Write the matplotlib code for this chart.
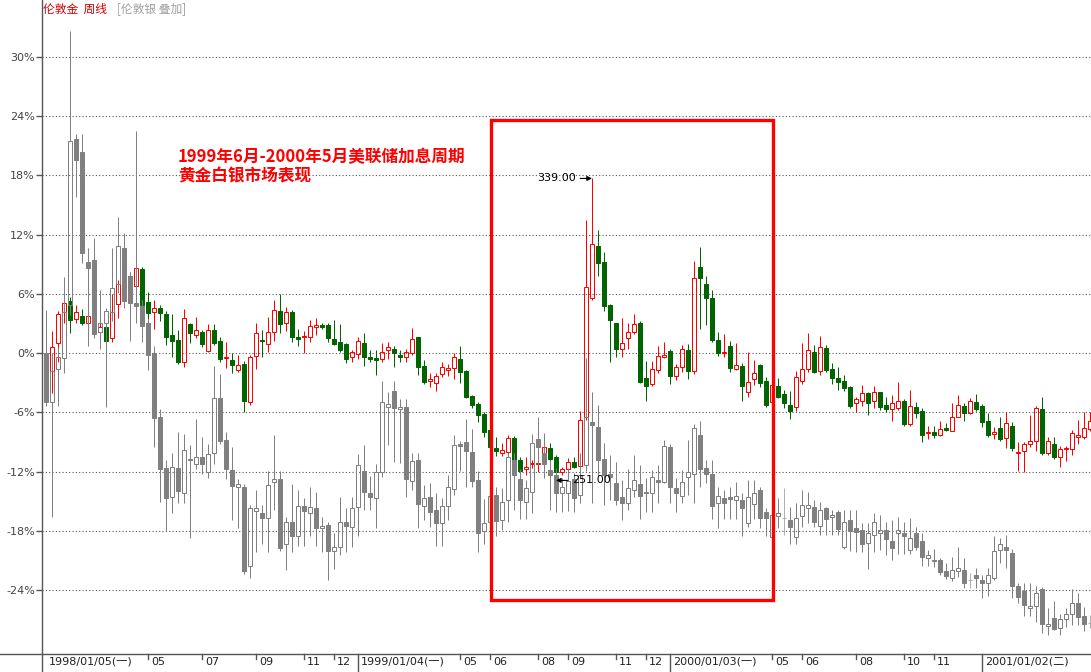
'''
gold_silver_weekly.py

London gold weekly candles with London silver overlaid (% change scale),
1998/01 - 2001/05, Fed hiking cycle 1999/06 - 2000/05 boxed.
'''

import matplotlib.pyplot as plt
import matplotlib.transforms as mtransforms
from matplotlib.lines import Line2D
from matplotlib.patches import Rectangle

plt.rcParams['font.family'] = ['DejaVu Sans', 'Noto Sans CJK SC']

# ---------------------------------------------------------------------------- #
# Data: % change vs. the first week, one value per week (week 0 = 1998/01/05).

gold_open = [
    -0.2, -1.8, 1.0, 4.2, 5.3, 3.5, 3.8, 3.1, 3.5, 2.1,
    2.6, 1.5, 5.0, 7.2, 7.8, 6.8, 8.5, 5.2, 4.2, 4.6,
    4.0, 1.8, 1.3, -0.9, 2.9, 1.8, 2.1, 0.2, 2.3, 1.2,
    -0.5, -0.7, -1.7, -1.1, -5.0, -0.3, 1.3, 0.9, 2.1, 4.3,
    3.1, 4.2, 1.6, 1.6, 1.6, 2.6, 2.8, 2.8, 1.4, 1.1,
    0.9, -0.4, -0.1, 1.0, -0.4, -0.5, -0.6, 0.3, 0.4, -0.2,
    -0.4, 0.0, 1.6, -1.3, -2.8, -3.0, -2.1, -1.7, -1.5, -0.6,
    -1.8, -4.3, -5.2, -6.2, -7.8, -9.6, -10.1, -10.0, -8.6, -10.8,
    -11.7, -11.2, -11.2, -10.1, -9.6, -10.5, -12.0, -11.7, -11.0, -11.4,
    -6.5, 5.6, 10.9, 9.2, 4.9, 3.1, 0.4, 1.5, 2.1, 3.1,
    -2.5, -3.1, -1.7, -0.4, 0.2, -2.3, -1.4, 0.3, -1.8, 8.7,
    7.0, 5.6, 1.3, 0.0, 0.7, -1.6, -1.3, -3.9, -2.6, -1.2,
    -2.8, -5.0, -3.3, -4.1, -5.3, -5.5, -2.8, -1.6, 0.1, -1.8,
    0.5, -1.6, -2.5, -2.8, -3.4, -5.1, -4.9, -4.0, -4.9, -3.9,
    -5.3, -5.7, -5.6, -4.9, -7.2, -5.5, -5.9, -8.1, -8.0, -8.3,
    -7.6, -7.9, -6.5, -5.4, -6.1, -5.0, -5.4, -6.9, -8.2, -7.6,
    -8.6, -7.4, -10.1, -9.9, -9.2, -8.9, -5.7, -10.1, -9.2, -10.5,
    -9.7, -9.7, -8.5, -8.5, -7.7]
gold_high = [
    0.3, 2.2, 4.3, 5.4, 5.7, 4.9, 4.5, 4.9, 4.0, 3.1,
    3.1, 6.0, 7.4, 7.6, 8.2, 9.2, 8.7, 6.2, 5.4, 4.9,
    4.3, 4.0, 2.3, 4.5, 3.0, 3.7, 2.3, 2.9, 2.9, 1.6,
    1.1, 0.0, -0.2, -0.8, -0.2, 3.0, 2.3, 3.7, 5.4, 6.0,
    4.7, 4.4, 2.4, 2.2, 3.4, 3.6, 3.1, 3.0, 3.4, 2.9,
    1.0, 0.3, 1.6, 2.0, 0.3, 0.3, 1.0, 1.1, 0.7, 0.3,
    0.4, 2.5, 1.6, -0.7, -2.0, -2.0, -0.9, -1.1, 0.0, 0.7,
    -1.7, -4.2, -5.0, -6.0, -7.5, -8.5, -9.1, -8.3, -8.4, -10.5,
    -10.5, -10.8, -10.5, -9.1, -9.1, -10.3, -11.5, -10.6, -10.5, -5.9,
    13.5, 17.7, 12.5, 10.2, 5.0, 3.1, 3.6, 3.1, 4.0, 3.3,
    -0.8, -0.8, 0.7, 1.1, 0.4, -1.1, 0.8, 0.9, 9.3, 10.8,
    7.8, 6.4, 2.1, 1.9, 1.2, 1.0, -1.0, 0.1, -0.7, -1.1,
    -2.4, -2.7, -2.5, -3.7, -3.8, -1.8, 1.0, 2.0, 0.8, 1.7,
    0.8, -1.0, -1.4, -2.2, -3.3, -4.4, -3.2, -3.9, -3.3, -3.9,
    -4.4, -4.2, -2.9, -4.7, -3.7, -5.0, -5.6, -7.4, -7.4, -6.9,
    -7.1, -5.1, -4.2, -5.1, -4.5, -4.1, -5.2, -6.1, -7.5, -6.5,
    -6.0, -7.0, -9.0, -9.0, -6.3, -5.4, -4.4, -8.5, -8.5, -9.4,
    -9.4, -7.8, -6.8, -6.0, -6.0]
gold_low = [
    -4.3, -4.0, -0.9, 3.0, 2.0, 3.1, 2.8, 2.7, 2.3, 1.9,
    0.8, 1.1, 3.6, 5.8, 7.2, 6.4, 4.6, 3.5, 2.4, 3.3,
    0.8, -0.4, -1.1, -1.4, 1.0, 1.5, 0.6, 0.1, 0.8, -0.9,
    -1.5, -2.0, -1.9, -6.0, -5.3, -1.6, -0.4, 0.1, 1.2, 2.0,
    2.2, 1.1, 0.7, 0.0, 1.1, 1.8, 2.4, 1.1, 0.8, 0.1,
    -1.0, -0.9, -0.6, -1.3, -0.9, -2.2, -0.9, -0.6, -1.4, -0.9,
    -0.9, -0.2, -2.2, -3.1, -3.4, -3.8, -2.4, -2.3, -2.6, -3.0,
    -4.5, -5.6, -7.0, -8.5, -9.8, -10.4, -10.4, -10.3, -11.0, -12.2,
    -12.4, -11.6, -12.0, -10.8, -11.1, -12.9, -12.4, -12.0, -11.6, -11.6,
    -6.8, 5.4, 7.8, 4.3, -0.9, -0.4, -0.4, 0.4, 1.9, -3.0,
    -4.9, -3.3, -2.0, -0.5, -3.1, -2.7, -1.9, -2.6, -2.1, 2.4,
    2.8, 1.1, -0.3, -0.4, -1.9, -1.7, -4.9, -4.4, -3.2, -3.4,
    -5.5, -5.2, -4.5, -5.6, -6.7, -5.9, -3.1, -1.9, -2.0, -2.2,
    -1.9, -3.1, -3.7, -3.8, -5.6, -6.0, -5.4, -6.3, -5.6, -5.8,
    -6.0, -6.9, -5.8, -7.4, -7.4, -6.6, -9.0, -8.7, -8.6, -8.4,
    -7.9, -7.9, -6.5, -6.9, -6.2, -5.9, -7.5, -8.5, -8.7, -8.9,
    -9.6, -9.9, -11.9, -12.0, -9.5, -9.9, -10.3, -10.3, -10.7, -11.5,
    -10.9, -10.3, -9.2, -8.7, -7.9]
gold_close = [
    -3.2, 0.6, 4.0, 5.1, 3.4, 4.2, 3.1, 3.8, 2.7, 2.6,
    1.2, 4.2, 7.0, 6.4, 7.6, 8.6, 4.9, 4.1, 4.6, 4.1,
    1.6, 1.2, -0.9, 3.6, 2.0, 2.3, 0.9, 2.3, 1.0, -0.6,
    -0.4, -1.2, -1.2, -4.9, -0.4, 2.0, 1.2, 2.1, 4.4, 2.9,
    4.2, 1.6, 1.4, 1.7, 2.7, 2.8, 2.6, 1.5, 0.9, 0.3,
    -0.6, 0.1, 1.2, -0.4, -0.6, -0.7, 0.1, 0.6, 0.0, -0.4,
    0.1, 1.4, -1.4, -2.9, -2.6, -2.3, -1.4, -1.5, -0.4, -1.9,
    -4.4, -5.3, -6.3, -8.0, -9.5, -9.9, -9.8, -8.6, -10.8, -11.9,
    -11.5, -11.1, -11.1, -9.5, -10.7, -12.0, -11.7, -11.0, -11.5, -6.8,
    6.7, 11.1, 9.1, 4.8, 3.4, 0.4, 1.0, 2.1, 2.9, -2.9,
    -3.3, -1.6, -0.3, -0.2, -2.3, -1.4, 0.4, -1.8, 7.6, 7.6,
    5.6, 1.3, 0.0, 0.1, -1.5, -1.2, -3.3, -2.9, -2.0, -3.0,
    -5.3, -3.2, -4.4, -5.1, -5.9, -2.4, -1.6, 0.3, -1.9, 0.6,
    -1.7, -2.5, -2.9, -3.5, -5.4, -4.7, -4.0, -5.1, -3.9, -5.5,
    -5.7, -5.1, -4.9, -7.2, -5.4, -6.1, -8.3, -8.0, -8.3, -7.7,
    -7.8, -6.5, -5.3, -6.1, -4.9, -5.7, -7.0, -8.3, -8.0, -8.7,
    -7.1, -9.6, -10.0, -9.2, -8.9, -5.6, -10.1, -8.9, -10.5, -9.7,
    -9.6, -8.1, -8.3, -7.6, -6.9]

silver_open = [
    0.0, -5.0, -1.6, -0.5, 4.9, 21.7, 20.4, 9.2, 9.4, 2.1,
    3.1, 4.2, 7.0, 10.7, 7.8, 5.1, 4.8, 3.0, 0.0, -6.5,
    -11.6, -14.6, -11.6, -14.2, -10.7, -11.2, -10.5, -12.0, -10.1, -4.5,
    -8.8, -11.8, -13.6, -13.6, -21.6, -16.0, -16.2, -16.7, -13.1, -12.8,
    -19.3, -17.1, -18.5, -15.5, -16.2, -15.7, -17.7, -17.4, -20.1, -19.6,
    -17.1, -17.6, -15.6, -11.9, -14.2, -14.7, -12.0, -5.5, -3.8, -5.7,
    -5.5, -13.0, -10.8, -15.5, -14.6, -15.9, -17.2, -15.5, -13.8, -9.2,
    -9.0, -10.0, -12.9, -18.0, -17.1, -14.4, -16.9, -14.9, -10.8, -12.8,
    -15.1, -14.1, -8.7, -10.1, -11.8, -12.4, -14.2, -14.2, -12.8, -14.4,
    -11.3, -7.0, -7.5, -10.7, -12.3, -13.2, -14.6, -15.2, -13.9, -13.3,
    -14.1, -14.2, -12.9, -13.1, -9.5, -13.7, -14.5, -12.6, -12.3, -8.3,
    -11.6, -12.3, -15.2, -14.7, -14.6, -14.9, -14.9, -17.2, -15.3, -13.9,
    -16.1, -18.6, -16.5, -16.7, -16.9, -18.6, -16.5, -15.7, -15.6, -17.5,
    -15.7, -16.6, -16.1, -19.6, -16.9, -17.7, -17.9, -19.2, -18.4, -18.2,
    -17.9, -19.0, -18.2, -18.2, -20.0, -18.2, -19.0, -20.8, -21.0, -21.0,
    -22.1, -22.8, -22.1, -22.0, -23.0, -22.5, -23.0, -23.3, -22.8, -20.0,
    -19.6, -20.3, -23.6, -24.1, -25.8, -25.6, -23.9, -27.7, -26.8, -27.9,
    -26.9, -26.4, -25.3, -26.6, -27.3]
silver_high = [
    4.4, 0.0, 0.6, 7.7, 32.6, 22.2, 22.2, 10.7, 11.7, 6.4,
    4.6, 10.7, 13.8, 12.2, 8.2, 22.5, 5.4, 3.5, 0.7, -5.7,
    -10.8, -10.1, -8.0, -8.2, -9.3, -6.7, -8.5, -9.2, -1.3, -2.1,
    -8.0, -9.5, -12.8, -13.3, -15.4, -13.9, -15.4, -11.9, -8.3, -11.9,
    -16.6, -13.3, -13.9, -14.7, -13.6, -14.1, -16.6, -17.1, -18.2, -14.6,
    -15.7, -14.6, -10.2, -9.3, -12.5, -11.2, -2.8, -3.9, -2.8, -4.7,
    -4.7, -10.1, -10.1, -13.4, -13.2, -14.2, -14.7, -12.4, -8.3, -8.9,
    -6.7, -7.7, -11.9, -14.8, -13.9, -13.6, -13.7, -10.1, -10.1, -11.7,
    -12.9, -8.2, -6.5, -8.1, -10.8, -11.6, -12.7, -11.6, -12.1, -10.1,
    -0.5, -3.9, -5.3, -9.1, -10.3, -11.0, -12.9, -11.7, -10.3, -11.3,
    -12.7, -11.8, -11.3, -8.8, -9.2, -12.7, -11.8, -8.8, -7.2, -6.9,
    -10.8, -10.8, -13.6, -13.9, -13.6, -13.1, -14.2, -12.9, -12.9, -13.6,
    -15.7, -15.9, -14.7, -13.7, -15.6, -15.2, -13.9, -14.1, -14.9, -15.1,
    -15.6, -15.9, -15.9, -15.9, -15.9, -15.9, -17.2, -17.2, -16.2, -16.4,
    -17.1, -16.9, -16.6, -17.1, -16.7, -17.6, -18.2, -20.0, -19.8, -20.8,
    -21.3, -20.7, -19.6, -20.8, -22.3, -21.8, -22.5, -21.8, -18.5, -18.7,
    -18.4, -19.8, -23.3, -23.3, -23.3, -23.6, -23.7, -25.8, -25.1, -26.4,
    -25.8, -23.9, -24.3, -25.7, -26.5]
silver_low = [
    -5.4, -16.6, -5.4, -2.0, 3.9, 15.8, 9.1, 0.7, 1.5, 0.4,
    -5.5, 3.3, 6.1, 4.6, 1.2, 3.1, 1.1, -1.7, -9.5, -15.1,
    -18.0, -16.2, -15.2, -15.2, -18.7, -11.7, -12.3, -12.7, -11.2, -9.2,
    -12.8, -16.9, -17.7, -22.4, -22.8, -20.2, -19.3, -20.2, -15.9, -20.1,
    -22.0, -20.2, -19.5, -19.5, -18.5, -19.5, -20.2, -23.0, -21.9, -20.5,
    -20.2, -19.6, -18.5, -15.9, -15.9, -17.7, -12.6, -9.3, -11.0, -11.1,
    -14.6, -13.9, -17.7, -16.9, -17.6, -19.5, -19.5, -16.9, -14.4, -11.9,
    -13.6, -13.6, -20.2, -19.3, -17.7, -18.5, -17.9, -17.1, -15.9, -16.8,
    -16.8, -16.2, -11.3, -12.7, -15.9, -16.1, -16.1, -16.0, -16.1, -15.2,
    -11.9, -15.2, -12.6, -15.4, -14.9, -15.4, -16.9, -15.9, -14.6, -16.8,
    -16.1, -16.1, -15.2, -13.2, -15.2, -16.1, -15.2, -14.4, -15.2, -13.6,
    -13.2, -16.8, -17.7, -16.8, -16.8, -16.8, -18.5, -17.6, -16.8, -17.7,
    -18.5, -19.2, -17.7, -18.4, -19.3, -19.3, -17.6, -17.2, -17.6, -18.4,
    -18.4, -18.4, -18.4, -19.8, -20.1, -20.2, -20.2, -21.9, -20.2, -20.0,
    -20.5, -21.0, -20.4, -20.4, -20.4, -20.0, -21.6, -21.6, -21.7, -22.5,
    -22.9, -23.1, -22.7, -23.8, -23.8, -23.8, -24.8, -24.6, -23.0, -21.3,
    -21.8, -24.8, -25.3, -26.6, -26.6, -27.2, -28.4, -28.6, -28.1, -28.6,
    -27.8, -27.6, -27.6, -28.2, -27.9]
silver_close = [
    -5.0, -1.8, -0.4, 4.2, 21.5, 19.6, 10.1, 8.6, 1.9, 3.0,
    4.3, 6.6, 10.9, 5.3, 5.1, 4.8, 2.7, -0.2, -6.6, -11.7,
    -14.7, -11.5, -14.0, -9.8, -10.8, -10.5, -11.2, -10.2, -4.5, -8.9,
    -11.7, -13.5, -13.3, -22.1, -15.7, -15.7, -16.7, -13.4, -12.8, -19.7,
    -17.1, -18.5, -15.5, -16.0, -15.6, -17.7, -17.5, -20.1, -19.6, -17.1,
    -17.5, -15.7, -11.3, -14.1, -14.6, -12.0, -5.0, -5.2, -5.6, -5.5,
    -12.8, -10.9, -15.3, -14.7, -16.1, -17.2, -15.5, -13.6, -9.3, -9.4,
    -9.9, -13.0, -18.2, -17.2, -14.5, -17.0, -15.1, -10.5, -12.4, -14.9,
    -13.7, -9.1, -9.5, -11.2, -12.4, -14.2, -13.6, -13.0, -14.7, -12.4,
    -6.5, -7.3, -10.8, -12.4, -12.6, -14.9, -15.2, -13.7, -12.9, -14.5,
    -14.2, -12.6, -13.1, -9.4, -13.6, -14.2, -13.1, -12.0, -7.6, -11.7,
    -12.3, -15.5, -14.5, -15.2, -14.8, -14.5, -15.7, -14.6, -14.2, -16.7,
    -16.7, -16.4, -16.2, -16.7, -17.6, -16.7, -15.4, -15.4, -17.1, -15.9,
    -16.8, -16.4, -17.8, -17.1, -18.0, -18.1, -19.3, -18.2, -17.1, -17.9,
    -18.8, -19.7, -17.9, -18.5, -18.7, -19.6, -20.7, -20.5, -21.1, -22.2,
    -22.6, -22.0, -21.8, -23.3, -23.0, -22.8, -23.3, -22.5, -20.1, -19.3,
    -20.0, -23.6, -24.7, -25.5, -25.6, -24.3, -27.5, -27.4, -28.0, -26.9,
    -26.4, -25.3, -26.7, -27.5, -27.3]

gold_base_price = 288.1     # gold price at 0%

# date axis: week index -> label
tick_weeks = [0, 17, 26, 35, 43, 48, 52, 69, 74, 82, 87, 95, 100, 104,
              121, 126, 135, 143, 148, 156]
tick_labels = ['1998/01/05(一)', '05', '07', '09', '11', '12',
               '1999/01/04(一)', '05', '06', '08', '09', '11', '12',
               '2000/01/03(一)', '05', '06', '08', '10', '11',
               '2001/01/02(二)']

y_ticks = [30, 24, 18, 12, 6, 0, -6, -12, -18, -24]

# Fed hiking cycle box: week range and % range
box_weeks = (74.2, 121.2)
box_pct = (-25.0, 23.6)

# ---------------------------------------------------------------------------- #

W, H = 1091, 672
px = 0.72   # one pixel in points

gold_up = '#ff0000'
gold_down = '#006400'
silver_col = '#808080'
silver_flat = '#b0b0b0'

fig = plt.figure(figsize=(W / 100, H / 100), dpi=100)
ax = fig.add_axes([42 / W, 18 / H, 1 - 42 / W, 1 - 18 / H])


def candles(o, h, l, c, up_col, down_col, flat_col, z):
    bw = 0.75
    for i in range(len(o)):
        top, bot = max(o[i], c[i]), min(o[i], c[i])
        if c[i] > o[i]:
            col, face = up_col, 'none'
        elif c[i] < o[i]:
            col, face = down_col, down_col
        else:
            col, face = flat_col, flat_col
        ax.vlines([i, i], [top, l[i]], [h[i], bot], color=col, lw=px, zorder=z)
        ax.add_patch(Rectangle((i - bw / 2, bot), bw, top - bot,
                               facecolor=face, edgecolor=col, lw=px, zorder=z))


candles(gold_open, gold_high, gold_low, gold_close,
        gold_up, gold_down, gold_up, 2)
candles(silver_open, silver_high, silver_low, silver_close,
        silver_col, silver_col, silver_flat, 3)

ax.set_xlim(-0.667, 174.17)
ax.set_ylim(-30.49, 35.78)

# Axes styling.
for s in ['top', 'right', 'bottom']:
    ax.spines[s].set_visible(False)
ax.spines['left'].set_color('#555555')
ax.spines['left'].set_linewidth(1.0)
ax.set_xticks([])
ax.set_yticks(y_ticks)
ax.set_yticklabels(['%d%%' % t for t in y_ticks])
ax.tick_params(axis='y', length=4, width=1, color='#555555', labelsize=8,
               labelcolor='#444444', pad=1)
ax.grid(axis='y', linestyle=(0, (1, 2)), color='#555555', lw=0.8)
ax.set_axisbelow(True)

# Bottom date axis.
fig.add_artist(Line2D([0, 1], [18 / H, 18 / H], color='#555555', lw=1.0))
fig.add_artist(Line2D([42 / W, 42 / W], [0, 18 / H], color='#555555', lw=1.0))
trans = mtransforms.blended_transform_factory(ax.transData, ax.transAxes)
for wk, lab in zip(tick_weeks, tick_labels):
    full = '/' in lab
    if wk > 0:
        ln = 18 / 654 if full else 5 / 654
        ax.plot([wk, wk], [0, -ln], color='#555555', lw=1.0,
                transform=trans, clip_on=False)
    ax.annotate(lab, xy=(wk, 0), xycoords=trans, xytext=(3, -8),
                textcoords='offset pixels', ha='left', va='center',
                fontsize=8, color='#222222', annotation_clip=False)

# Header.
fig.text(43 / W, 1 - 9 / H, '伦敦金  周线', color='#cc0000', fontsize=8.5,
         va='center', family=['Noto Sans CJK SC', 'DejaVu Sans'])
fig.text(117 / W, 1 - 9 / H, '[伦敦银 叠加]', color='#a0a0a0', fontsize=8.5,
         va='center', family=['Noto Sans CJK SC', 'DejaVu Sans'])

# Red comment.
fig.text(178 / W, 1 - 157 / H, '1999年6月-2000年5月美联储加息周期',
         color='#ff0000', fontsize=12, fontweight='bold', va='center',
         family=['Noto Sans CJK SC', 'DejaVu Sans'])
fig.text(178 / W, 1 - 176 / H, '黄金白银市场表现',
         color='#ff0000', fontsize=12, fontweight='bold', va='center',
         family=['Noto Sans CJK SC', 'DejaVu Sans'])

ax.add_patch(Rectangle((box_weeks[0], box_pct[0]),
                       box_weeks[1] - box_weeks[0], box_pct[1] - box_pct[0],
                       fill=False, edgecolor='#ff0000', lw=2.4, zorder=5))

# Max / min markers on gold.
i_max = max(range(len(gold_high)), key=lambda i: gold_high[i])
i_min = min(range(len(gold_low)), key=lambda i: gold_low[i])
v_max = round(gold_base_price * (1 + gold_high[i_max] / 100))
v_min = round(gold_base_price * (1 + gold_low[i_min] / 100))
arrow = dict(arrowstyle='-|>', color='black', lw=0.8, mutation_scale=7,
             shrinkA=1, shrinkB=0)
ax.annotate('%.2f' % v_max, xy=(i_max, gold_high[i_max]),
            xytext=(-16, 0), textcoords='offset pixels', ha='right',
            va='center', fontsize=8, arrowprops=arrow, zorder=6)
ax.annotate('%.2f' % v_min, xy=(i_min, gold_low[i_min]),
            xytext=(16, 0), textcoords='offset pixels', ha='left',
            va='center', fontsize=8, arrowprops=arrow, zorder=6)

plt.savefig('out.png', dpi=100)
